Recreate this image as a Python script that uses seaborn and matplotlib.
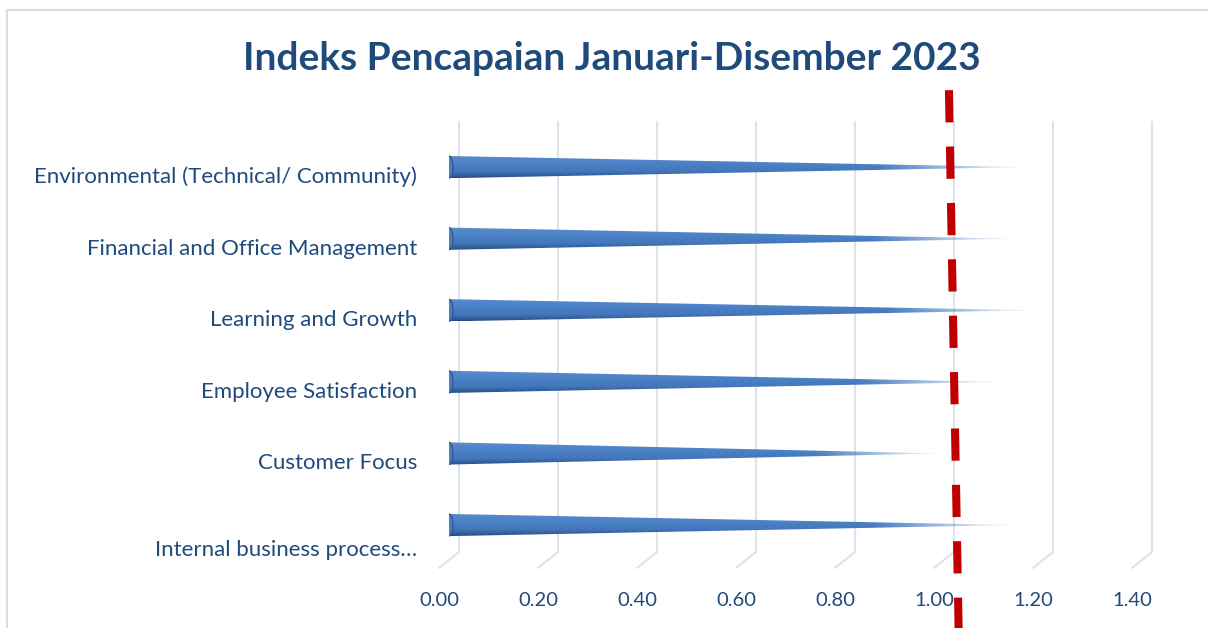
import matplotlib
matplotlib.use("Agg")
from matplotlib import pyplot as plt
from matplotlib import transforms as mtransforms
from matplotlib.colors import LinearSegmentedColormap
from matplotlib.patches import Ellipse, Polygon, Rectangle
import numpy as np
import pandas as pd
import seaborn as sns

# chart data
title = "Indeks Pencapaian Januari-Disember 2023"
categories = [
    "Environmental (Technical/ Community)",
    "Financial and Office Management",
    "Learning and Growth",
    "Employee Satisfaction",
    "Customer Focus",
    "Internal business process…",
]
values = [1.16, 1.14, 1.18, 1.11, 0.99, 1.14]
x_ticks = [0.0, 0.2, 0.4, 0.6, 0.8, 1.0, 1.2, 1.4]
x_tick_labels = ["0.00", "0.20", "0.40", "0.60", "0.80", "1.00", "1.20", "1.40"]
target_line = [1.01, 1.03]  # red dashed target marker (top, bottom)

TEXT = "#1f4a7c"
GRID = "#dde2ef"
RED = "#c00000"


def draw_cones(ax):
    """Replace seaborn's bars by shaded cones."""
    shade = LinearSegmentedColormap.from_list(
        "cone", [(0, "#6f8fb8"), (0.12, "#5487cb"), (0.35, "#4d82c8"),
                 (0.7, "#4477bb"), (0.9, "#325f9a"), (1, "#27497a")])
    rows = shade(np.linspace(0, 1, 64))
    nx = 300
    img = np.repeat(rows[:, None, :], nx, axis=1)
    fade = np.clip((1 - np.linspace(0, 1, nx)) / 0.25, 0.2, 1)
    img[..., 3] = fade[None, :]

    for patch in list(ax.patches):
        w = patch.get_width()
        h = patch.get_height()
        y0 = patch.get_y()
        yc = y0 + h / 2
        patch.set_visible(False)
        im = ax.imshow(img, extent=(0, w, y0 + h, y0), aspect="auto",
                       interpolation="bilinear", zorder=3)
        cone = Polygon([(0, y0), (w, yc), (0, y0 + h)], closed=True,
                       transform=ax.transData, facecolor="none")
        im.set_clip_path(cone)
        ax.add_patch(Ellipse((0, yc), width=0.016, height=h, facecolor="#4a7dc2",
                             edgecolor="#2b5289", lw=0.8, zorder=4))


if __name__ == "__main__":
    sns.set_theme(style="white")
    plt.rcParams["font.family"] = ["Lato", "DejaVu Sans"]

    df = pd.DataFrame({"category": categories, "value": values})

    fig = plt.figure(figsize=(12.08, 6.28), dpi=100)
    ax = fig.add_axes([449 / 1208, 76 / 628, 717.75 / 1208, 430 / 628])
    sns.barplot(data=df, x="value", y="category", orient="h", width=0.31,
                color="#4a7cc0", ax=ax)
    draw_cones(ax)

    ax.set_xlim(0, 1.45)
    ax.set_ylim(5.377, -0.63)
    ax.set_xlabel("")
    ax.set_ylabel("")
    sns.despine(ax=ax, left=True, bottom=True)

    # 3D-looking gridlines: back wall plus a slanted floor segment
    blend = mtransforms.blended_transform_factory(ax.transData, ax.transAxes)
    depth = 0.0202
    for t in x_ticks:
        ax.plot([t + depth, t + depth, t - depth], [1, 0, -0.037], transform=blend,
                color=GRID, lw=1.5, clip_on=False, zorder=1)

    ax.plot(target_line, [1.074, -0.21], transform=blend, color=RED, lw=5.8,
            linestyle=(0, (4, 3)), dash_capstyle="butt", clip_on=False, zorder=6)

    ax.set_xticks(x_ticks, x_tick_labels)
    ax.tick_params(axis="x", length=0, pad=29, labelsize=14.5, labelcolor=TEXT)
    ax.tick_params(axis="y", length=0, pad=23, labelsize=16, labelcolor=TEXT)
    shift_x = mtransforms.ScaledTranslation(-0.10, 0, fig.dpi_scale_trans)
    for lbl in ax.get_xticklabels():
        lbl.set_transform(lbl.get_transform() + shift_x)
    ylabels = ax.get_yticklabels()
    for i, lbl in enumerate(ylabels):
        dy = -0.23 if i == len(ylabels) - 1 else -0.08
        lbl.set_transform(lbl.get_transform()
                          + mtransforms.ScaledTranslation(0, dy, fig.dpi_scale_trans))

    fig.text(612 / 1208, 1 - 58 / 628, title, ha="center", va="center",
             fontsize=28, fontweight="bold", color=TEXT)
    fig.add_artist(Rectangle((7 / 1208, -0.1), 1.2, (618 / 628) + 0.1,
                             transform=fig.transFigure, fill=False,
                             edgecolor="#d5deeb", lw=1.5))

    fig.savefig("out.png", dpi=100)
